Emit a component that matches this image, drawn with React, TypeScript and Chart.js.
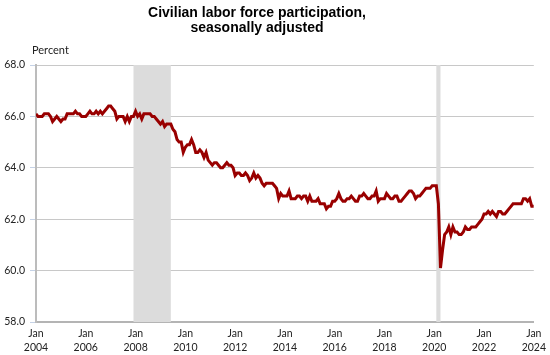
import React, { useEffect, useRef } from "react";
import { Chart, registerables } from "chart.js";

Chart.register(...registerables);

const startYear = 2004;
// Monthly values, Jan 2004 .. Jan 2024
const values2004 = [66.1, 66.0, 66.0, 66.0, 66.1, 66.1, 66.1, 66.0, 65.8, 65.9, 66.0, 65.9];
const values2005 = [65.8, 65.9, 65.9, 66.1, 66.1, 66.1, 66.1, 66.2, 66.1, 66.1, 66.0, 66.0];
const values2006 = [66.0, 66.1, 66.2, 66.1, 66.1, 66.2, 66.1, 66.2, 66.1, 66.2, 66.3, 66.4];
const values2007 = [66.4, 66.3, 66.2, 65.9, 66.0, 66.0, 66.0, 65.8, 66.0, 65.8, 66.0, 66.0];
const values2008 = [66.2, 66.0, 66.1, 65.9, 66.1, 66.1, 66.1, 66.1, 66.0, 66.0, 65.9, 65.8];
const values2009 = [65.7, 65.8, 65.6, 65.7, 65.7, 65.7, 65.5, 65.4, 65.1, 65.0, 65.0, 64.6];
const values2010 = [64.8, 64.9, 64.9, 65.1, 64.9, 64.6, 64.6, 64.7, 64.6, 64.4, 64.6, 64.3];
const values2011 = [64.2, 64.1, 64.2, 64.2, 64.1, 64.0, 64.0, 64.1, 64.2, 64.1, 64.1, 64.0];
const values2012 = [63.7, 63.8, 63.8, 63.7, 63.7, 63.8, 63.7, 63.5, 63.6, 63.8, 63.6, 63.7];
const values2013 = [63.6, 63.4, 63.3, 63.4, 63.4, 63.4, 63.4, 63.3, 63.2, 62.8, 63.0, 62.9];
const values2014 = [62.9, 62.9, 63.1, 62.8, 62.8, 62.8, 62.9, 62.9, 62.8, 62.9, 62.9, 62.7];
const values2015 = [62.9, 62.7, 62.7, 62.7, 62.8, 62.6, 62.6, 62.6, 62.4, 62.5, 62.5, 62.7];
const values2016 = [62.7, 62.8, 63.0, 62.8, 62.7, 62.7, 62.8, 62.8, 62.9, 62.8, 62.7, 62.7];
const values2017 = [62.9, 62.9, 63.0, 62.9, 62.8, 62.8, 62.9, 62.9, 63.1, 62.7, 62.8, 62.8];
const values2018 = [62.8, 63.0, 62.9, 62.8, 62.8, 62.9, 62.9, 62.7, 62.7, 62.8, 62.9, 63.0];
const values2019 = [63.1, 63.1, 63.0, 62.8, 62.9, 62.9, 63.0, 63.1, 63.2, 63.2, 63.2, 63.3];
const values2020 = [63.3, 63.3, 62.6, 60.1, 60.8, 61.4, 61.5, 61.7, 61.4, 61.7, 61.5, 61.5];
const values2021 = [61.4, 61.4, 61.5, 61.7, 61.6, 61.6, 61.7, 61.7, 61.7, 61.8, 61.9, 62.0];
const values2022 = [62.2, 62.2, 62.3, 62.2, 62.3, 62.2, 62.1, 62.3, 62.3, 62.2, 62.2, 62.3];
const values2023 = [62.4, 62.5, 62.6, 62.6, 62.6, 62.6, 62.6, 62.8, 62.8, 62.7, 62.8, 62.5];
const values2024 = [62.5];

const participation = [
  ...values2004, ...values2005, ...values2006, ...values2007, ...values2008,
  ...values2009, ...values2010, ...values2011, ...values2012, ...values2013,
  ...values2014, ...values2015, ...values2016, ...values2017, ...values2018,
  ...values2019, ...values2020, ...values2021, ...values2022, ...values2023,
  ...values2024,
];

// Recessions as month offsets from Jan 2004
const recessionStarts = [47, 193]; // Dec 2007, Feb 2020
const recessionEnds = [65, 195]; // Jun 2009, Apr 2020

const yTicks = [58, 60, 62, 64, 66, 68];

const recessionPlugin = {
  id: "recessions",
  beforeDatasetsDraw(chart: any) {
    const { ctx, chartArea, scales } = chart;
    ctx.save();
    ctx.fillStyle = "#dcdcdc";
    for (let i = 0; i < recessionStarts.length; i++) {
      const x1 = scales.x.getPixelForValue(recessionStarts[i]);
      const x2 = scales.x.getPixelForValue(recessionEnds[i]);
      ctx.fillRect(x1, chartArea.top, x2 - x1, chartArea.bottom - chartArea.top);
    }
    ctx.restore();
  },
};

export default function App() {
  const ref = useRef<HTMLCanvasElement>(null);
  useEffect(() => {
    if (!ref.current) return;
    const points = participation.map((v, i) => ({ x: i, y: v }));
    const chart = new Chart(ref.current, {
      type: "line",
      data: {
        datasets: [
          {
            data: points,
            borderColor: "#990000",
            borderWidth: 3,
            pointRadius: 0,
            tension: 0,
            fill: false,
          },
        ],
      },
      options: {
        responsive: false,
        animation: false,
        layout: { padding: { top: 65, right: 12, left: 0, bottom: 0 } },
        plugins: {
          legend: { display: false },
          tooltip: { enabled: false },
          title: { display: false },
        },
        scales: {
          x: {
            type: "linear",
            min: 0,
            max: 240,
            afterFit(scale: any) {
              scale.height = 33;
            },
            grid: { display: false, drawTicks: false },
            border: { display: true, color: "#b4b4b4", width: 2 },
            ticks: {
              stepSize: 24,
              autoSkip: false,
              maxRotation: 0,
              padding: 4,
              color: "#222",
              font: { family: "Lato, 'Open Sans', sans-serif", size: 10.5, lineHeight: 1.4 },
              callback: (v: any) => ["Jan", String(startYear + Math.round(Number(v) / 12))],
            },
          },
          y: {
            min: 58,
            max: 68,
            afterFit(scale: any) {
              scale.width = 36;
            },
            afterBuildTicks(scale: any) {
              scale.ticks = yTicks.map((v) => ({ value: v }));
            },
            grid: {
              color: "#c8c8c8",
              lineWidth: 1,
              borderDash: [1, 2],
              tickLength: 6,
              tickColor: "#c5d2e6",
              tickWidth: 1,
              tickBorderDash: [],
            } as any,
            border: { display: true, color: "#bcbcbc", width: 2 },
            ticks: {
              padding: 5,
              color: "#222",
              font: { family: "Lato, 'Open Sans', sans-serif", size: 10.5 },
              callback: (v: any) => Number(v).toFixed(1),
            },
          },
        },
      },
      plugins: [recessionPlugin],
    });
    return () => chart.destroy();
  }, []);

  return (
    <div style={{ position: "fixed", left: 0, top: 0, width: 550, height: 355, background: "#fff" }}>
      <canvas ref={ref} width={550} height={355} style={{ position: "absolute", left: 0, top: 0 }} />
      <div
        style={{
          position: "absolute",
          left: 0,
          top: 5,
          width: 514,
          textAlign: "center",
          fontFamily: "'Liberation Sans', Arial, sans-serif",
          fontWeight: "bold",
          fontSize: 14,
          lineHeight: "15px",
          color: "#000",
        }}
      >
        Civilian labor force participation,
        <br />
        seasonally adjusted
      </div>
      <div
        style={{
          position: "absolute",
          left: 32,
          top: 44,
          fontFamily: "Lato, 'Open Sans', sans-serif",
          fontSize: 11,
          lineHeight: "12px",
          color: "#222",
        }}
      >
        Percent
      </div>
    </div>
  );
}
